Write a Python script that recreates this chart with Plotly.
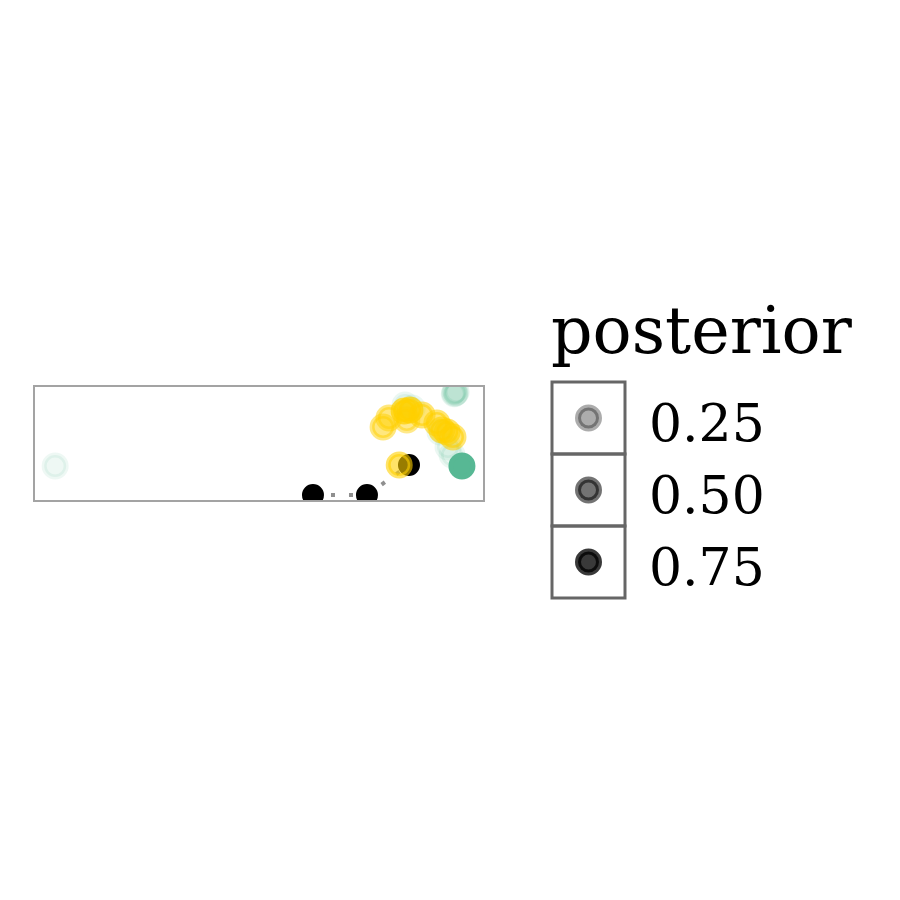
import plotly.graph_objects as go

# ---- data (panel coordinates, arbitrary units 0..1) ----
green_x = [0.045, 0.9375, 0.940, 0.936, 0.826, 0.842, 0.904, 0.922, 0.931, 0.953]
green_y = [0.301, 0.947, 0.955, 0.940, 0.841, 0.814, 0.602, 0.469, 0.398, 0.301]
green_post = [0.0, 0.08, 0.05, 0.05, 0.02, 0.02, 0.02, 0.02, 0.02, 1.0]

yellow_x = [0.777, 0.790, 0.824, 0.837, 0.830, 0.864, 0.897, 0.908, 0.920, 0.933, 0.813]
yellow_y = [0.646, 0.726, 0.788, 0.796, 0.708, 0.752, 0.681, 0.619, 0.602, 0.558, 0.310]
yellow_post = [0.45, 0.45, 0.7, 0.7, 0.4, 0.5, 0.5, 0.55, 0.55, 0.5, 0.55]

black_x = [0.6205, 0.741, 0.8348]
black_y = [0.044, 0.044, 0.310]

legend_values = [0.25, 0.50, 0.75]
legend_labels = ["0.25", "0.50", "0.75"]
legend_title = "posterior"

GREEN = (87, 184, 148)
YELLOW = (255, 208, 0)
FONT = "DejaVu Serif"


def alpha_of(p):
    return 0.1 + 0.9 * p


def rgba(rgb, a):
    return f"rgba({rgb[0]},{rgb[1]},{rgb[2]},{a:.3f})"


fig = go.Figure()

# dotted path through black points
fig.add_trace(go.Scatter(
    x=black_x, y=black_y, mode="lines",
    line=dict(color="#8f8f8f", width=4, dash="4px,14px"),
    hoverinfo="skip", showlegend=False,
))
# black points
fig.add_trace(go.Scatter(
    x=black_x, y=black_y, mode="markers",
    marker=dict(size=18, color="black", line=dict(color="black", width=4)),
    showlegend=False,
))
# green points
fig.add_trace(go.Scatter(
    x=green_x, y=green_y, mode="markers",
    marker=dict(size=22,
                color=[rgba(GREEN, alpha_of(p)) for p in green_post],
                line=dict(color=[rgba(GREEN, alpha_of(p)) for p in green_post], width=5)),
    showlegend=False,
))
# yellow points
fig.add_trace(go.Scatter(
    x=yellow_x, y=yellow_y, mode="markers",
    marker=dict(size=22,
                color=[rgba(YELLOW, alpha_of(p)) for p in yellow_post],
                line=dict(color=[rgba(YELLOW, alpha_of(p)) for p in yellow_post], width=5)),
    showlegend=False,
))

# manual legend on its own axes
leg_idx = list(range(len(legend_values)))
fig.add_trace(go.Scatter(
    x=[0] * len(leg_idx), y=leg_idx, mode="markers",
    xaxis="x2", yaxis="y2", cliponaxis=False,
    marker=dict(size=21,
                color=[rgba((0, 0, 0), alpha_of(v)) for v in legend_values],
                line=dict(color=[rgba((0, 0, 0), alpha_of(v)) for v in legend_values], width=6)),
    showlegend=False,
))

shapes = []
annotations = []
for i, lab in zip(leg_idx, legend_labels):
    shapes.append(dict(type="rect", xref="x2", yref="y2",
                       x0=-0.5, x1=0.5, y0=i - 0.5, y1=i + 0.5,
                       line=dict(color="#666666", width=3), layer="above"))
    annotations.append(dict(text=lab, xref="x2", yref="y2", x=0.5, y=i,
                            xanchor="left", yanchor="middle", xshift=22, yshift=-5,
                            showarrow=False, font=dict(family=FONT, size=52, color="black")))
annotations.append(dict(text=legend_title, xref="paper", yref="paper",
                        x=549 / 900, y=1 - 330 / 900, xanchor="left", yanchor="middle",
                        showarrow=False, font=dict(family=FONT, size=65, color="black")))

axis_common = dict(showgrid=False, zeroline=False, showticklabels=False, ticks="",
                   showline=True, mirror=True, linecolor="#a3a3a3", linewidth=2)

# legend axes padded so the box outlines are not clipped
pad = 0.1
fig.update_layout(
    width=900, height=900,
    margin=dict(l=0, r=0, t=0, b=0),
    paper_bgcolor="white", plot_bgcolor="white",
    font=dict(family=FONT),
    xaxis=dict(domain=[35 / 900, 483 / 900], range=[0, 1], **axis_common),
    yaxis=dict(domain=[1 - 500 / 900, 1 - 387 / 900], range=[0, 1], **axis_common),
    xaxis2=dict(domain=[(552 - 73 * pad) / 900, (625 + 73 * pad) / 900],
                range=[-0.5 - pad, 0.5 + pad], visible=False, anchor="y2"),
    yaxis2=dict(domain=[1 - (598 + 72 * pad) / 900, 1 - (382 - 72 * pad) / 900],
                range=[2.5 + pad, -0.5 - pad], visible=False, anchor="x2"),
    shapes=shapes,
    annotations=annotations,
    showlegend=False,
)

fig.write_html("out.html")
